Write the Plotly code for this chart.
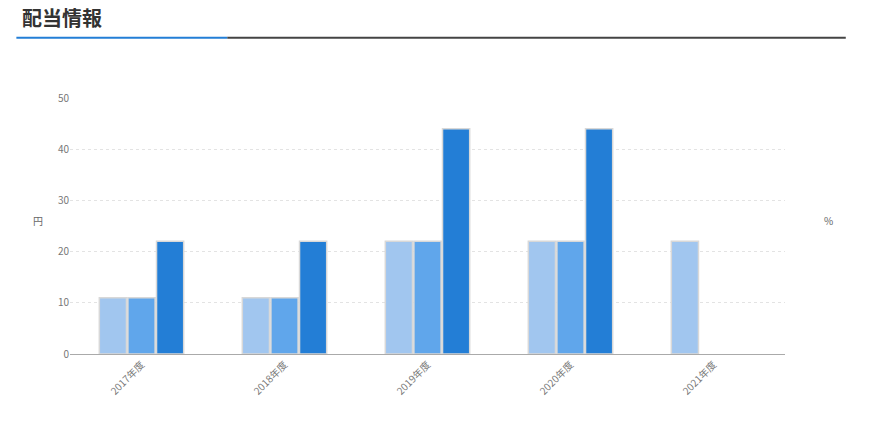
import plotly.graph_objects as go

years = ["2017年度", "2018年度", "2019年度", "2020年度", "2021年度"]
series_a = [11, 11, 22, 22, 22]
series_b = [11, 11, 22, 22, None]
series_c = [22, 22, 44, 44, None]
colors = ["#a1c6ef", "#60a6eb", "#237ed6"]

fig = go.Figure()
for vals, c in zip([series_a, series_b, series_c], colors):
    fig.add_trace(go.Bar(x=years, y=vals, marker=dict(color=c, line=dict(color="#d8d8d8", width=1.5)),
                         showlegend=False))

fig.update_layout(
    width=870, height=422, paper_bgcolor="white", plot_bgcolor="white",
    margin=dict(l=62, r=93, t=90, b=76),
    bargap=0.4, bargroupgap=0.05,
    font=dict(family="Noto Sans CJK JP", color="#666", size=10),
    xaxis=dict(tickangle=-45, showline=True, linecolor="#aaa", ticks="", tickfont=dict(size=10, color="#777")),
    yaxis=dict(range=[0, 50], dtick=10, gridcolor="#e3e3e3", griddash="dot", gridwidth=1, zeroline=False,
               ticks="", tickfont=dict(size=10, color="#777")),
)
fig.add_annotation(text="<b>配当情報</b>", xref="paper", yref="paper", x=-0.07, y=1.38, xanchor="left",
                   showarrow=False, font=dict(size=20, color="#333"))
fig.add_shape(type="line", xref="paper", yref="paper", x0=-0.075, x1=0.22, y0=1.235, y1=1.235,
              line=dict(color="#237ed6", width=2))
fig.add_shape(type="line", xref="paper", yref="paper", x0=0.22, x1=1.085, y0=1.235, y1=1.235,
              line=dict(color="#444", width=2))
fig.add_annotation(text="円", xref="paper", yref="paper", x=-0.055, y=0.52, showarrow=False)
fig.add_annotation(text="%", xref="paper", yref="paper", x=1.07, y=0.52, showarrow=False)
fig.write_html("out.html")
